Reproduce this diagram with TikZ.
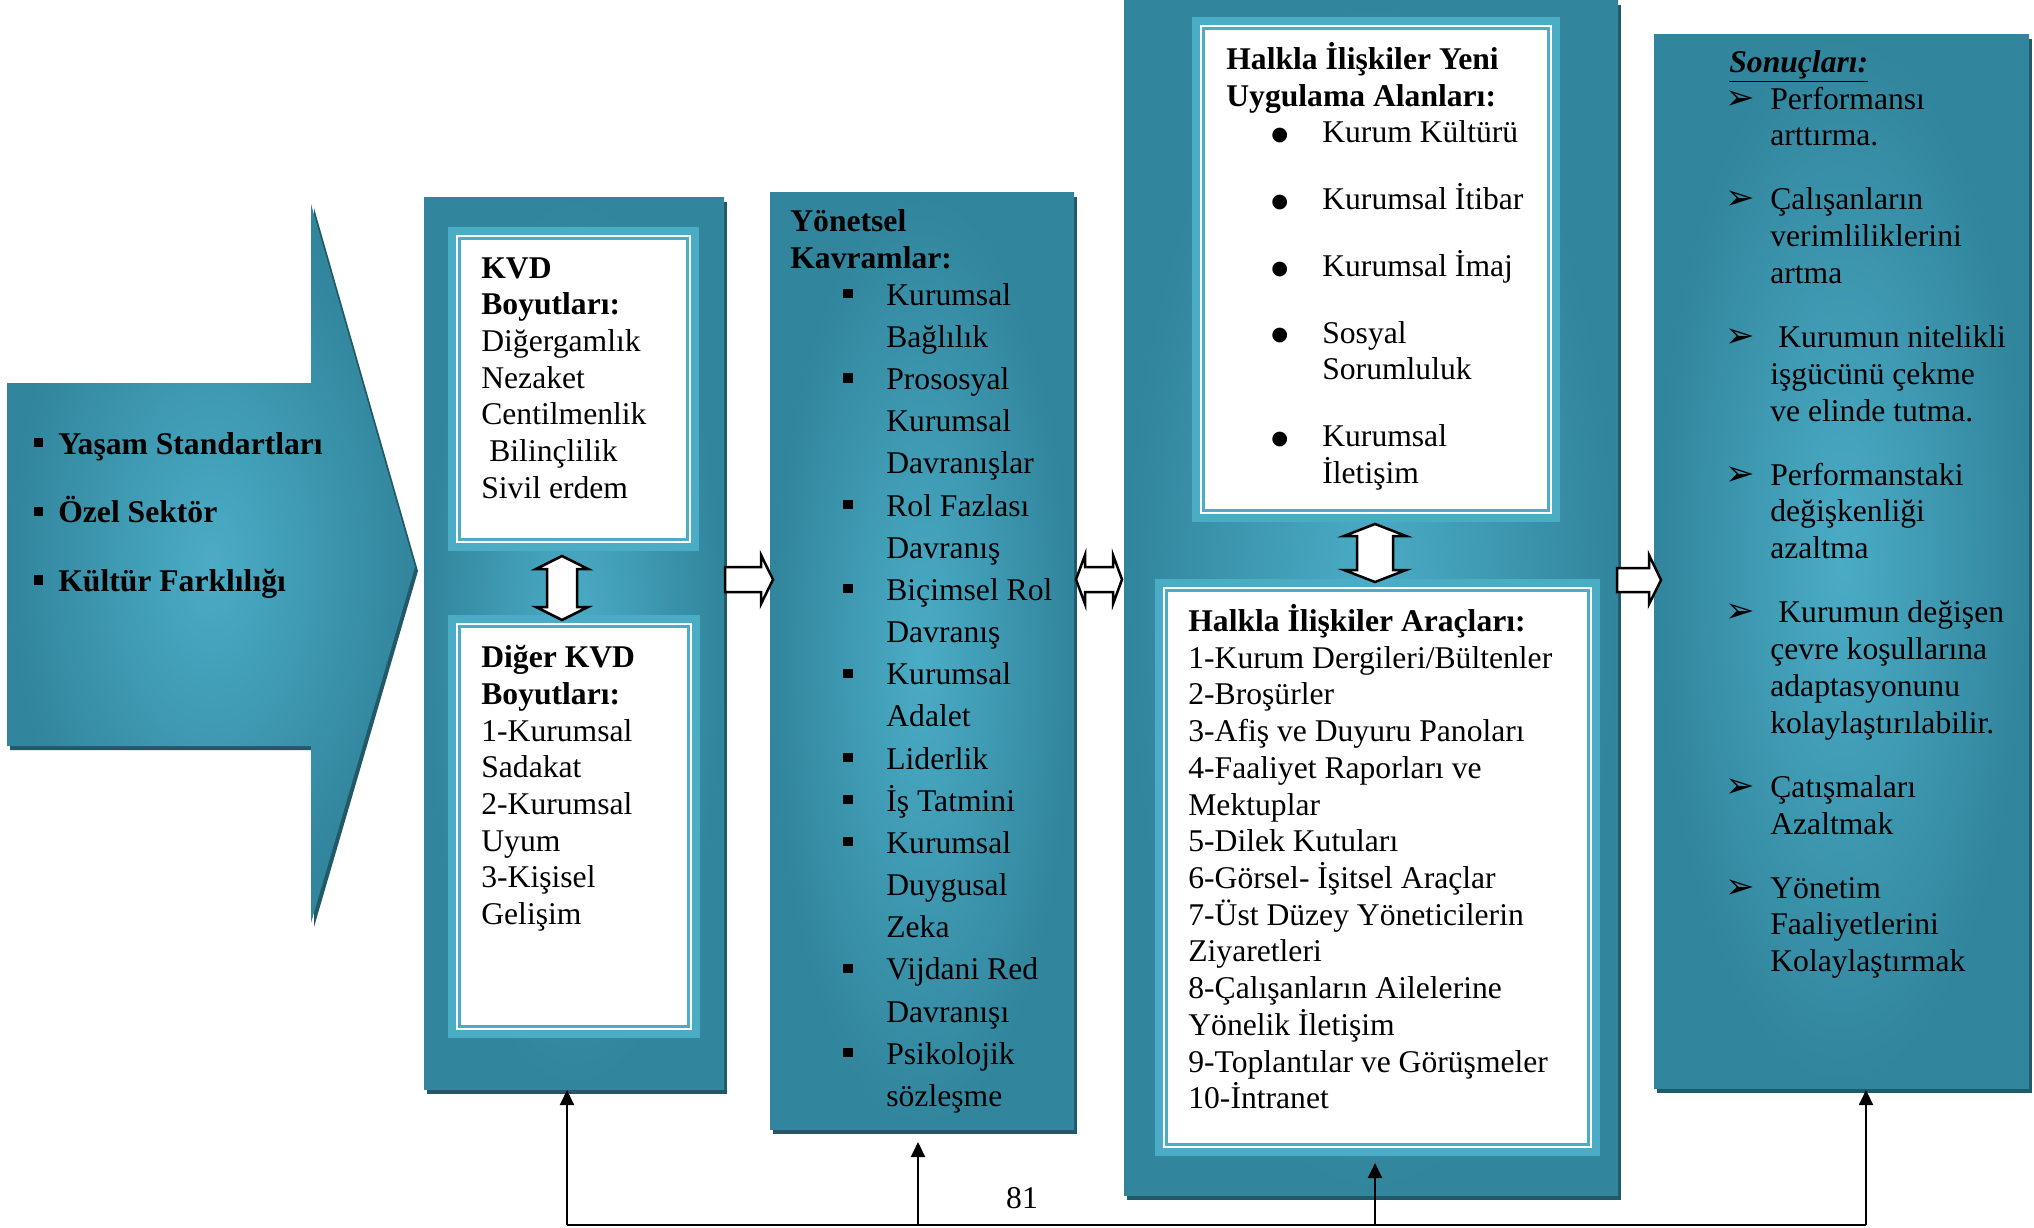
\documentclass[tikz,border=0pt]{standalone}
\usepackage{fontspec}
\setmainfont{Liberation Serif}
\newfontfamily\dejavu{DejaVu Sans}
\usetikzlibrary{arrows.meta}
\definecolor{tealdark}{HTML}{31859C}
\definecolor{teallight}{HTML}{4BACC6}
\definecolor{tealshadow}{HTML}{215968}
\newcommand{\kare}{\rule[4pt]{5.2pt}{5.2pt}}
\newcommand{\okisaret}{{\dejavu\fontsize{20}{20}\selectfont ➢}}
\newcommand{\nokta}{\raisebox{1.3pt}{\dejavu\fontsize{11}{11}\selectfont ●}}
\begin{document}
\begin{tikzpicture}[x=0.02cm,y=-0.02cm,
  txt/.style={anchor=north west, inner sep=0pt, align=left,
    font=\fontsize{18}{20.9}\selectfont, execute at begin node=\rule{0pt}{18pt}},
  boxshade/.style={inner color=teallight, outer color=tealdark},
  hollow/.style={draw=black, fill=white, line width=0.05cm, line join=miter},
  feed/.style={line width=0.04cm, -{Triangle[length=0.3cm,width=0.28cm]}}]
\useasboundingbox (0,0) rectangle (2034,1227);

% big arrow on the left
\fill[tealshadow] (10,387) -- (314,387) -- (314,208) -- (418,571) -- (314,927) -- (314,750) -- (10,750) -- cycle;
\shade[boxshade] (7,383) -- (311,383) -- (311,204) -- (415,567) -- (311,923) -- (311,746) -- (7,746) -- cycle;

% the four columns
\fill[tealshadow] (427,202) rectangle (727,1094);
\shade[boxshade] (424,197) rectangle (724,1089);
\fill[tealshadow] (773,197) rectangle (1077,1134);
\shade[boxshade] (770,192) rectangle (1074,1129);
\fill[tealshadow] (1127,5) rectangle (1621,1200);
\shade[boxshade] (1124,0) rectangle (1618,1195);
\fill[tealshadow] (1657,39) rectangle (2032,1093);
\shade[boxshade] (1654,34) rectangle (2029,1088);

% framed white boxes
\fill[teallight] (448,227) rectangle (699,551);
\fill[white] (456,235) rectangle (691,543);
\draw[teallight, line width=0.05cm] (459.5,238.5) rectangle (687.5,539.5);
\fill[teallight] (448,615) rectangle (700,1038);
\fill[white] (456,623) rectangle (692,1030);
\draw[teallight, line width=0.05cm] (459.5,626.5) rectangle (688.5,1026.5);
\fill[teallight] (1192,17) rectangle (1560,522);
\fill[white] (1200,25) rectangle (1552,514);
\draw[teallight, line width=0.05cm] (1203.5,28.5) rectangle (1548.5,510.5);
\fill[teallight] (1155,579) rectangle (1600,1156);
\fill[white] (1163,587) rectangle (1592,1148);
\draw[teallight, line width=0.05cm] (1166.5,590.5) rectangle (1588.5,1144.5);

% hollow block arrows
\draw[hollow] (562,556) -- (588,569) -- (577,569) -- (577,607) -- (588,607) -- (562,620)
  -- (536,607) -- (547,607) -- (547,569) -- (536,569) -- cycle;
\draw[hollow] (1375,524) -- (1406,536) -- (1393,536) -- (1393,570) -- (1406,570) -- (1375,582)
  -- (1344,570) -- (1357,570) -- (1357,536) -- (1344,536) -- cycle;
\draw[hollow] (725,567) -- (761,567) -- (761,555) -- (773,579.5) -- (761,604) -- (761,592) -- (725,592) -- cycle;
\draw[hollow] (1076,579.5) -- (1085,555) -- (1085,567) -- (1113,567) -- (1113,555) -- (1122,579.5)
  -- (1113,604) -- (1113,592) -- (1085,592) -- (1085,604) -- cycle;
\draw[hollow] (1617,568) -- (1649,568) -- (1649,555) -- (1661,580) -- (1649,604) -- (1649,592) -- (1617,592) -- cycle;

% texts
\node[txt, font=\fontsize{18}{20.9}\selectfont\bfseries] (faktorler) at (34,432)
{\makebox[0.48cm][l]{\kare}Yaşam Standartları\\[0.638cm]
\makebox[0.48cm][l]{\kare}Özel Sektör\\[0.638cm]
\makebox[0.48cm][l]{\kare}Kültür Farklılığı};

\node[txt] (kvd) at (481,257)
{\textbf{KVD}\\ \textbf{Boyutları:}\\ Diğergamlık\\ Nezaket\\ Centilmenlik\\
\hspace*{0.16cm}Bilinçlilik\\ Sivil erdem};
\node[txt] (digerkvd) at (481,645)
{\textbf{Diğer KVD}\\ \textbf{Boyutları:}\\ 1-Kurumsal\\ Sadakat\\ 2-Kurumsal\\ Uyum\\
3-Kişisel\\ Gelişim};

\node[txt, font=\fontsize{18}{20.9}\selectfont\bfseries] (yonetsel) at (790,209)
{Yönetsel\\ Kavramlar:};
\node[txt, font=\fontsize{18}{24}\selectfont] (kavramlar) at (843,283)
{\makebox[0.86cm][l]{\kare}Kurumsal\\ \hspace*{0.86cm}Bağlılık\\
\makebox[0.86cm][l]{\kare}Prososyal\\ \hspace*{0.86cm}Kurumsal\\ \hspace*{0.86cm}Davranışlar\\
\makebox[0.86cm][l]{\kare}Rol Fazlası\\ \hspace*{0.86cm}Davranış\\
\makebox[0.86cm][l]{\kare}Biçimsel Rol\\ \hspace*{0.86cm}Davranış\\
\makebox[0.86cm][l]{\kare}Kurumsal\\ \hspace*{0.86cm}Adalet\\
\makebox[0.86cm][l]{\kare}Liderlik\\
\makebox[0.86cm][l]{\kare}İş Tatmini\\
\makebox[0.86cm][l]{\kare}Kurumsal\\ \hspace*{0.86cm}Duygusal\\ \hspace*{0.86cm}Zeka\\
\makebox[0.86cm][l]{\kare}Vijdani Red\\ \hspace*{0.86cm}Davranışı\\
\makebox[0.86cm][l]{\kare}Psikolojik\\ \hspace*{0.86cm}sözleşme};

\node[txt] (yenialan) at (1226,42)
{\textbf{Halkla İlişkiler Yeni}\\ \textbf{Uygulama Alanları:}\\
\hspace*{0.90cm}\makebox[1.02cm][l]{\nokta}Kurum Kültürü\\[0.6cm]
\hspace*{0.90cm}\makebox[1.02cm][l]{\nokta}Kurumsal İtibar\\[0.6cm]
\hspace*{0.90cm}\makebox[1.02cm][l]{\nokta}Kurumsal İmaj\\[0.6cm]
\hspace*{0.90cm}\makebox[1.02cm][l]{\nokta}Sosyal\\ \hspace*{1.92cm}Sorumluluk\\[0.6cm]
\hspace*{0.90cm}\makebox[1.02cm][l]{\nokta}Kurumsal\\ \hspace*{1.92cm}İletişim};

\node[txt] (araclar) at (1188,604)
{\textbf{Halkla İlişkiler Araçları:}\\ 1-Kurum Dergileri/Bültenler\\ 2-Broşürler\\
3-Afiş ve Duyuru Panoları\\ 4-Faaliyet Raporları ve\\ Mektuplar\\ 5-Dilek Kutuları\\
6-Görsel- İşitsel Araçlar\\ 7-Üst Düzey Yöneticilerin\\ Ziyaretleri\\
8-Çalışanların Ailelerine\\ Yönelik İletişim\\ 9-Toplantılar ve Görüşmeler\\ 10-İntranet};

\node[txt] (sonuclar) at (1725,50)
{\hspace*{0.08cm}\underline{\textbf{\textit{Sonuçları:}}}\\
\makebox[0.9cm][l]{\okisaret}Performansı\\ \hspace*{0.9cm}arttırma.\\[0.55cm]
\makebox[0.9cm][l]{\okisaret}Çalışanların\\ \hspace*{0.9cm}verimliliklerini\\ \hspace*{0.9cm}artma\\[0.55cm]
\makebox[0.9cm][l]{\okisaret}\hspace*{0.16cm}Kurumun nitelikli\\ \hspace*{0.9cm}işgücünü çekme\\
\hspace*{0.9cm}ve elinde tutma.\\[0.55cm]
\makebox[0.9cm][l]{\okisaret}Performanstaki\\ \hspace*{0.9cm}değişkenliği\\ \hspace*{0.9cm}azaltma\\[0.55cm]
\makebox[0.9cm][l]{\okisaret}\hspace*{0.16cm}Kurumun değişen\\ \hspace*{0.9cm}çevre koşullarına\\
\hspace*{0.9cm}adaptasyonunu\\ \hspace*{0.9cm}kolaylaştırılabilir.\\[0.55cm]
\makebox[0.9cm][l]{\okisaret}Çatışmaları\\ \hspace*{0.9cm}Azaltmak\\[0.55cm]
\makebox[0.9cm][l]{\okisaret}Yönetim\\ \hspace*{0.9cm}Faaliyetlerini\\ \hspace*{0.9cm}Kolaylaştırmak};

\node[font=\fontsize{18}{20.9}\selectfont, inner sep=0pt] (sayfa) at (1022,1198) {81};

% feedback lines
\coordinate (kvdalt) at (567,1090);
\coordinate (yonalt) at (918,1142);
\coordinate (aracalt) at (1375,1163);
\coordinate (sonalt) at (1866,1090);
\coordinate (geriA) at (567,1225);
\coordinate (geriB) at (918,1225);
\coordinate (geriC) at (1375,1225);
\coordinate (geriD) at (1866,1225);
\draw[line width=0.04cm] (geriA) -- (geriD);
\draw[feed] (geriA) -- (kvdalt);
\draw[feed] (geriB) -- (yonalt);
\draw[feed] (geriC) -- (aracalt);
\draw[feed] (geriD) -- (sonalt);
\end{tikzpicture}
\end{document}
